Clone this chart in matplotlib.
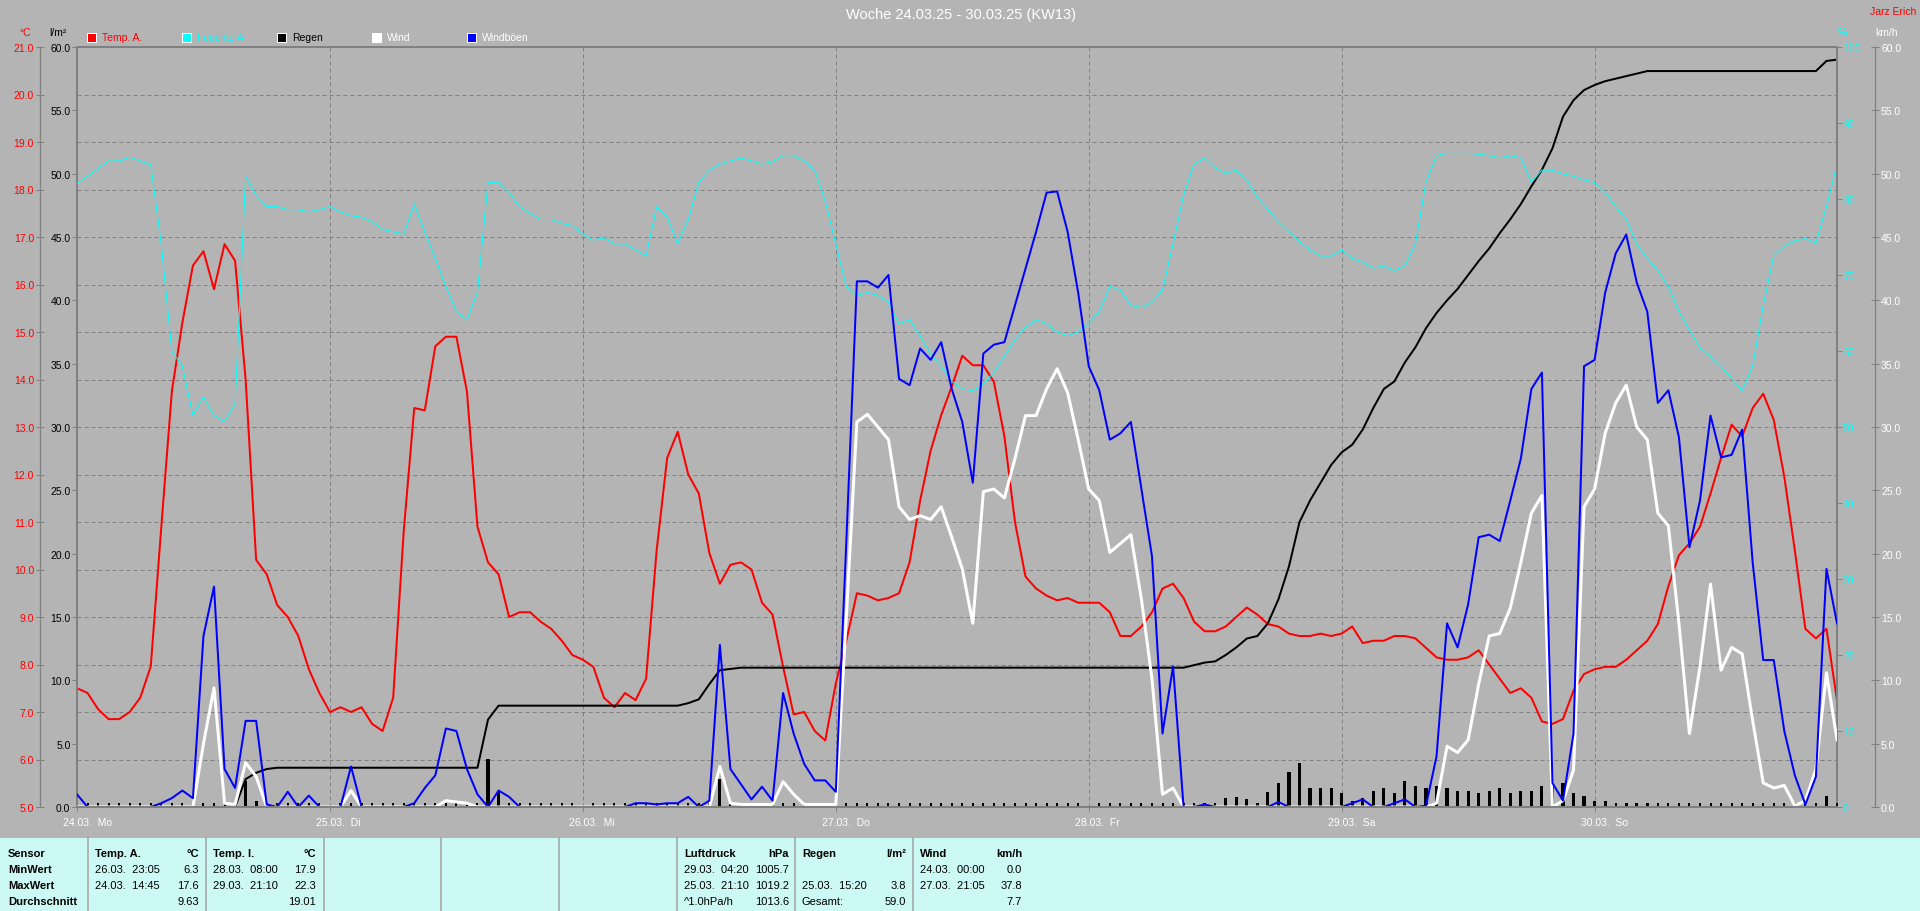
import numpy as np
import matplotlib
matplotlib.use("Agg")
import matplotlib.pyplot as plt
from matplotlib.patches import Rectangle
from matplotlib.lines import Line2D
from matplotlib.ticker import FormatStrFormatter, MultipleLocator
from matplotlib import transforms

plt.rcParams['font.family'] = ['Liberation Sans', 'DejaVu Sans']

W, H, DPI = 1920, 912, 100
PT = 72.0 / DPI  # ein Pixel in Punkt

GRAU = '#b4b4b4'
RAHMEN = '#808080'
TABELLE = '#cdf9f5'

# Stundenwerte 24.03. 00:00 .. 30.03. 23:00
temp_a = [
    7.5, 7.4, 7.06, 6.85, 6.85, 7.0, 7.3, 7.96, 10.9, 13.75,
    15.2, 16.4, 16.7, 15.9, 16.85, 16.5, 14.0, 10.2, 9.9, 9.25,
    9.0, 8.6, 7.9, 7.4, 7.0, 7.1, 7.0, 7.1, 6.75, 6.6,
    7.3, 10.8, 13.4, 13.35, 14.7, 14.9, 14.9, 13.75, 10.9, 10.15,
    9.9, 9.0, 9.1, 9.1, 8.9, 8.75, 8.5, 8.2, 8.1, 7.95,
    7.3, 7.1, 7.4, 7.25, 7.7, 10.4, 12.35, 12.9, 12.0, 11.6,
    10.35, 9.7, 10.1, 10.15, 10.0, 9.3, 9.05, 7.95, 6.95, 7.0,
    6.6, 6.4, 7.6, 8.5, 9.5, 9.45, 9.35, 9.4, 9.5, 10.15,
    11.45, 12.5, 13.25, 13.85, 14.5, 14.3, 14.3, 13.95, 12.8, 11.0,
    9.85, 9.6, 9.45, 9.35, 9.4, 9.3, 9.3, 9.3, 9.1, 8.6,
    8.6, 8.8, 9.1, 9.6, 9.7, 9.4, 8.9, 8.7, 8.7, 8.8,
    9.0, 9.2, 9.05, 8.85, 8.8, 8.65, 8.6, 8.6, 8.65, 8.6,
    8.65, 8.8, 8.45, 8.5, 8.5, 8.6, 8.6, 8.55, 8.35, 8.15,
    8.1, 8.1, 8.15, 8.3, 8.0, 7.7, 7.4, 7.5, 7.3, 6.8,
    6.75, 6.85, 7.45, 7.8, 7.9, 7.95, 7.95, 8.1, 8.3, 8.5,
    8.85, 9.65, 10.3, 10.55, 10.9, 11.6, 12.35, 13.05, 12.8, 13.4,
    13.7, 13.15, 11.95, 10.4, 8.75, 8.55, 8.75, 7.25,
]

feuchte_a = [
    82, 83, 84, 85, 85, 85.5, 85, 84.5, 74, 60,
    58, 51.5, 54, 51.5, 50.7, 53, 83, 80.5, 79, 79,
    78.6, 78.6, 78.3, 78.6, 79, 78.3, 77.8, 77.6, 77, 76,
    75.7, 75.4, 79.3, 75.7, 72.2, 68.5, 65.2, 64.1, 67.7, 82.2,
    82.2, 80.9, 79, 78.1, 77.3, 77.3, 76.8, 76.5, 75.4, 74.6,
    74.9, 74.1, 74.1, 73.3, 72.5, 79, 77.6, 74.1, 77.3, 82.2,
    83.8, 84.6, 85, 85.4, 85, 84.6, 84.9, 85.7, 85.7, 85,
    83.8, 79.7, 74.1, 68.5, 67.3, 67.7, 67.3, 66.4, 63.6, 64.1,
    62, 59.6, 58, 56, 55, 54.8, 55.6, 57.2, 59.3, 61.5,
    63.1, 64.1, 63.6, 62.5, 62, 62.5, 63.6, 65.2, 68.5, 68,
    66, 65.7, 66.4, 68, 74.1, 80.5, 84.6, 85.4, 84.1, 83.4,
    83.8, 82.5, 80.2, 78.6, 77, 75.7, 74.4, 73.3, 72.5, 72.5,
    73.3, 72.2, 71.7, 70.9, 71.2, 70.6, 71.2, 74.1, 82.2, 85.7,
    86, 86, 86, 85.9, 85.7, 85.4, 85.7, 85.4, 82.2, 83.8,
    83.8, 83.3, 83, 82.5, 82.2, 80.9, 79, 77.3, 74.1, 72.2,
    70.6, 68.5, 65.2, 62.8, 60.4, 59.3, 58, 56.4, 54.8, 58,
    66, 72.5, 73.8, 74.5, 74.8, 74.2, 79, 84.5,
]

# Regen kumuliert (l/m²)
regen_summe = ([0.0] * 16 + [2.2, 2.7, 3.0] + [3.1] * 20 + [6.9] + [8.0] * 18
               + [8.2, 8.5, 9.7, 10.8, 10.9] + [11.0] * 43
               + [11.2, 11.4, 11.5, 12.0, 12.6, 13.3, 13.5, 14.5, 16.4, 19.0,
                  22.5, 24.2, 25.6, 27.0, 28.0, 28.6, 29.8, 31.5, 33.0, 33.6,
                  35.1, 36.3, 37.8, 39.0, 40.0, 40.9, 42.0, 43.1, 44.1, 45.3,
                  46.4, 47.6, 49.0, 50.3, 52.0, 54.5, 55.8, 56.6, 57.0, 57.3,
                  57.5, 57.7, 57.9]
               + [58.1] * 17 + [58.9, 59.0])

# Regen pro Stunde (l/m²)
regen_stunde = ([0.0] * 16 + [2.05, 0.45, 0.3, 0.1] + [0.0] * 19 + [3.8, 1.2]
                + [0.0] * 18 + [0.2, 0.3, 2.2, 0.0, 0.3] + [0.0] * 43
                + [0.3, 0.0, 0.7, 0.8, 0.6, 0.3, 1.2, 1.9, 2.8, 3.45,
                   1.5, 1.5, 1.5, 1.1, 0.5, 0.7, 1.25, 1.5, 1.1, 2.05,
                   1.65, 1.5, 1.65, 1.5, 1.25, 1.25, 1.1, 1.25, 1.5, 1.1,
                   1.25, 1.25, 1.65, 1.65, 1.9, 1.1, 0.85, 0.45, 0.45, 0.0,
                   0.3, 0.3, 0.3]
                + [0.0] * 16 + [0.85, 0.0])

wind = [
    0, 0, 0, 0, 0, 0, 0, 0, 0, 0,
    0, 0, 5.0, 9.4, 0.3, 0.2, 3.5, 2.4, 0, 0,
    0, 0, 0, 0, 0, 0, 1.3, 0, 0, 0,
    0, 0, 0, 0, 0, 0.5, 0.4, 0.3, 0, 0,
    0, 0, 0, 0, 0, 0, 0, 0, 0, 0,
    0, 0, 0, 0, 0, 0, 0, 0, 0, 0,
    0, 3.2, 0.3, 0.2, 0.2, 0.2, 0.2, 2.0, 1.0, 0.2,
    0.2, 0.2, 0.2, 15.0, 30.4, 31.0, 30.0, 29.0, 23.7, 22.7,
    23.0, 22.7, 23.7, 21.3, 18.8, 14.5, 24.9, 25.1, 24.4, 27.5,
    30.9, 30.9, 33.0, 34.6, 32.7, 29.0, 25.1, 24.2, 20.1, 20.8,
    21.5, 16.4, 10.1, 1.0, 1.5, 0, 0, 0, 0, 0,
    0, 0, 0, 0, 0, 0, 0, 0, 0, 0,
    0, 0, 0, 0, 0, 0, 0, 0, 0, 0.3,
    4.8, 4.3, 5.3, 9.7, 13.5, 13.7, 15.7, 19.3, 23.2, 24.6,
    0, 0.5, 2.9, 23.7, 25.1, 29.5, 31.9, 33.3, 30.0, 29.0,
    23.2, 22.2, 14.5, 5.8, 11.1, 17.6, 10.8, 12.6, 12.1, 6.8,
    1.9, 1.5, 1.7, 0.1, 0.5, 3.0, 10.6, 5.3,
]

windboeen = [
    1.0, 0, 0, 0, 0, 0, 0, 0, 0.3, 0.7,
    1.3, 0.7, 13.5, 17.4, 3.0, 1.5, 6.8, 6.8, 0.2, 0,
    1.2, 0, 0.9, 0, 0, 0, 3.2, 0, 0, 0,
    0, 0, 0.3, 1.5, 2.5, 6.2, 6.0, 3.0, 1.0, 0,
    1.3, 0.8, 0, 0, 0, 0, 0, 0, 0, 0,
    0, 0, 0, 0.3, 0.3, 0.2, 0.3, 0.3, 0.8, 0,
    0.5, 12.8, 3.0, 1.8, 0.6, 1.6, 0.5, 9.0, 5.8, 3.4,
    2.1, 2.1, 1.2, 21.0, 41.5, 41.5, 41.0, 42.0, 33.8, 33.3,
    36.2, 35.3, 36.7, 33.0, 30.4, 25.6, 35.8, 36.5, 36.7, 39.6,
    42.5, 45.4, 48.5, 48.6, 45.4, 40.6, 34.8, 32.9, 29.0, 29.5,
    30.4, 25.1, 19.8, 5.8, 11.1, 0, 0, 0.2, 0, 0,
    0, 0, 0, 0, 0.4, 0, 0, 0, 0, 0,
    0, 0.3, 0.6, 0, 0, 0.3, 0.6, 0, 0.1, 4.0,
    14.5, 12.6, 16.0, 21.3, 21.5, 21.0, 24.2, 27.5, 33.0, 34.3,
    1.9, 0.5, 5.8, 34.8, 35.3, 40.6, 43.7, 45.2, 41.4, 39.1,
    31.9, 32.9, 29.2, 20.5, 24.2, 30.9, 27.6, 27.8, 29.8, 19.3,
    11.6, 11.6, 6.0, 2.5, 0.2, 2.4, 18.8, 14.5,
]

for reihe in (feuchte_a, regen_summe, regen_stunde, wind, windboeen):
    assert len(reihe) == len(temp_a)

tage = ["24.03.  Mo", "25.03.  Di", "26.03.  Mi", "27.03.  Do",
        "28.03.  Fr", "29.03.  Sa", "30.03.  So"]

legende = ["Temp. A.", "Feuchte A.", "Regen", "Wind", "Windböen"]
legende_kasten = ["#ff0000", "#00ffff", "#000000", "#ffffff", "#0000ff"]
legende_text = ["#ff0000", "#00ffff", "#000000", "#ffffff", "#ffffff"]

titel = "Woche 24.03.25 - 30.03.25 (KW13)"
station = "Jarz Erich"

# Tabelle unten
zeilen = ["Sensor", "MinWert", "MaxWert", "Durchschnitt"]
tab_kopf = ["Temp. A.", "Temp. I.", "Luftdruck", "Regen", "Wind"]
tab_einheit = ["°C", "°C", "hPa", "l/m²", "km/h"]
tab_zeit = [
    ["26.03.  23:05", "24.03.  14:45", ""],
    ["28.03.  08:00", "29.03.  21:10", ""],
    ["29.03.  04:20", "25.03.  21:10", "^1.0hPa/h"],
    ["", "25.03.  15:20", "Gesamt:"],
    ["24.03.  00:00", "27.03.  21:05", ""],
]
tab_wert = [
    ["6.3", "17.6", "9.63"],
    ["17.9", "22.3", "19.01"],
    ["1005.7", "1019.2", "1013.6"],
    ["", "3.8", "59.0"],
    ["0.0", "37.8", "7.7"],
]


def fx(x):
    return x / W


def fy(y):
    return 1 - y / H


stunden = np.arange(len(temp_a))

fig = plt.figure(figsize=(W / DPI, H / DPI), dpi=DPI, facecolor=GRAU)

# Diagrammbereich in Pixeln
X0, X1, Y0, Y1 = 77, 1837, 48, 808
ax_t = fig.add_axes([fx(X0), fy(Y1), (X1 - X0) / W, (Y1 - Y0) / H])
ax_t.set_facecolor(GRAU)
ax_r = ax_t.twinx()
ax_h = ax_t.twinx()
ax_w = ax_t.twinx()

for a in (ax_t, ax_r, ax_h, ax_w):
    for s in a.spines.values():
        s.set_visible(False)
        s.set_color(RAHMEN)

ax_t.set_xlim(0, len(temp_a) - 1)
ax_t.set_ylim(5, 21)
ax_r.set_ylim(0, 60)
ax_h.set_ylim(0, 100)
ax_w.set_ylim(0, 60)

# Gitter an Tagen und Temperaturstufen
ax_t.set_xticks(np.arange(0, len(temp_a), 24))
ax_t.set_yticks(np.arange(5, 22, 1))
ax_t.grid(True, color=RAHMEN, linestyle=(0, (4, 3)), linewidth=PT)
ax_t.xaxis.set_major_formatter(plt.NullFormatter())
ax_t.tick_params(axis='x', which='major', direction='out', length=4 * PT,
                 width=PT, color=RAHMEN)
ax_t.tick_params(axis='x', which='minor', length=0)

# Temperaturachse links aussen
ax_t.spines['left'].set_visible(True)
ax_t.spines['left'].set_position(('outward', (X0 - 40) * PT))
ax_t.spines['left'].set_linewidth(1.3 * PT)
ax_t.yaxis.set_major_formatter(FormatStrFormatter('%.1f'))
ax_t.tick_params(axis='y', direction='inout', length=8 * PT, width=PT,
                 color=RAHMEN, labelcolor='#ff0000', labelsize=7.5, pad=2 * PT)

# Regenachse links
ax_r.yaxis.tick_left()
ax_r.spines['left'].set_visible(True)
ax_r.spines['left'].set_linewidth(2 * PT)
ax_r.yaxis.set_major_locator(MultipleLocator(5))
ax_r.yaxis.set_major_formatter(FormatStrFormatter('%.1f'))
ax_r.tick_params(axis='y', direction='out', length=5 * PT, width=PT,
                 color=RAHMEN, labelcolor='black', labelsize=7.5, pad=1.5 * PT)

# Feuchteachse rechts
ax_h.spines['right'].set_visible(True)
ax_h.spines['right'].set_linewidth(2 * PT)
ax_h.set_yticks(np.arange(0, 101, 10))
ax_h.tick_params(axis='y', direction='out', length=5 * PT, width=PT,
                 color=RAHMEN, labelcolor='#00ffff', labelsize=7.5, pad=1 * PT)

# Windachse rechts aussen + Rahmen oben/unten
ax_w.spines['right'].set_visible(True)
ax_w.spines['right'].set_position(('outward', (1875 - X1) * PT))
ax_w.spines['right'].set_linewidth(1.3 * PT)
ax_w.spines['top'].set_visible(True)
ax_w.spines['top'].set_linewidth(2 * PT)
ax_w.spines['bottom'].set_visible(True)
ax_w.spines['bottom'].set_linewidth(2 * PT)
ax_w.yaxis.set_major_locator(MultipleLocator(5))
ax_w.yaxis.set_major_formatter(FormatStrFormatter('%.1f'))
ax_w.tick_params(axis='y', direction='inout', length=8 * PT, width=PT,
                 color=RAHMEN, labelcolor='white', labelsize=7.5, pad=2 * PT)

# Stundenmarken unten
ax_w.xaxis.set_visible(True)
ax_w.set_xticks(stunden, minor=True)
ax_w.tick_params(axis='x', which='major', length=0, labelbottom=False)
ax_w.tick_params(axis='x', which='minor', direction='in', length=4 * PT,
                 width=2 * PT, color='black')

# Kurven
ax_t.plot(stunden, temp_a, color='#ff0000', linewidth=2 * PT)
ax_h.plot(stunden, feuchte_a, color='#00ffff', linewidth=1 * PT)
ax_r.bar(stunden, regen_stunde, width=0.3, color='black')
ax_r.plot(stunden, regen_summe, color='black', linewidth=2 * PT)
ax_w.plot(stunden, wind, color='white', linewidth=3 * PT)
ax_w.plot(stunden, windboeen, color='#0000ff', linewidth=2 * PT)

# Tagesbeschriftung
for i, lab in enumerate(tage):
    tr = transforms.offset_copy(ax_w.get_xaxis_transform(), fig=fig,
                                x=-14 * PT, y=-15 * PT, units='points')
    ax_w.text(i * 24, 0, lab, transform=tr, ha='left', va='center',
              color='white', fontsize=7.5, clip_on=False)

# Einheiten ueber den Achsen
fig.text(fx(25), fy(33), "°C", color='#ff0000', fontsize=7.5, ha='center', va='center')
fig.text(fx(58), fy(33), "l/m²", color='black', fontsize=7.5, ha='center', va='center')
fig.text(fx(1842), fy(33), "%", color='#00ffff', fontsize=7.5, ha='center', va='center')
fig.text(fx(1887), fy(33), "km/h", color='white', fontsize=7.5, ha='center', va='center')

# Legende
for i, name in enumerate(legende):
    x = 87 + 95 * i
    fig.add_artist(Rectangle((fx(x), fy(42.5)), 9 / W, 9 / H, transform=fig.transFigure,
                             facecolor=legende_kasten[i], edgecolor='white', linewidth=PT))
    fig.text(fx(x + 15), fy(38), name, color=legende_text[i], fontsize=7.5,
             ha='left', va='center')

fig.text(fx(961), fy(15), titel, color='white', fontsize=10.5, ha='center', va='center')
fig.text(fx(1916), fy(12), station, color='#ff0000', fontsize=7.5, ha='right', va='center')

# Tabelle
fig.add_artist(Rectangle((0, 0), 1, (H - 839) / H, transform=fig.transFigure,
                         facecolor=TABELLE, edgecolor='none'))
for k in range(8):
    x = 88 + 117.8 * k
    fig.add_artist(Line2D([fx(x), fx(x)], [fy(839), fy(912)], color='#a0a0a0',
                          linewidth=1.5 * PT, transform=fig.transFigure))

zeilen_y = [854, 870, 886, 902]
for j, z in enumerate(zeilen):
    fig.text(fx(8), fy(zeilen_y[j]), z, fontsize=8, fontweight='bold',
             ha='left', va='center', color='black')

links = [95, 213, 684, 802, 920]
rechts = [199, 316, 789, 906, 1022]
for c in range(len(tab_kopf)):
    fig.text(fx(links[c]), fy(zeilen_y[0]), tab_kopf[c], fontsize=8,
             fontweight='bold', ha='left', va='center')
    fig.text(fx(rechts[c]), fy(zeilen_y[0]), tab_einheit[c], fontsize=8,
             fontweight='bold', ha='right', va='center')
    for j in range(3):
        fig.text(fx(links[c]), fy(zeilen_y[j + 1]), tab_zeit[c][j], fontsize=8,
                 ha='left', va='center')
        fig.text(fx(rechts[c]), fy(zeilen_y[j + 1]), tab_wert[c][j], fontsize=8,
                 ha='right', va='center')

fig.savefig("out.png", dpi=DPI, facecolor=GRAU)
